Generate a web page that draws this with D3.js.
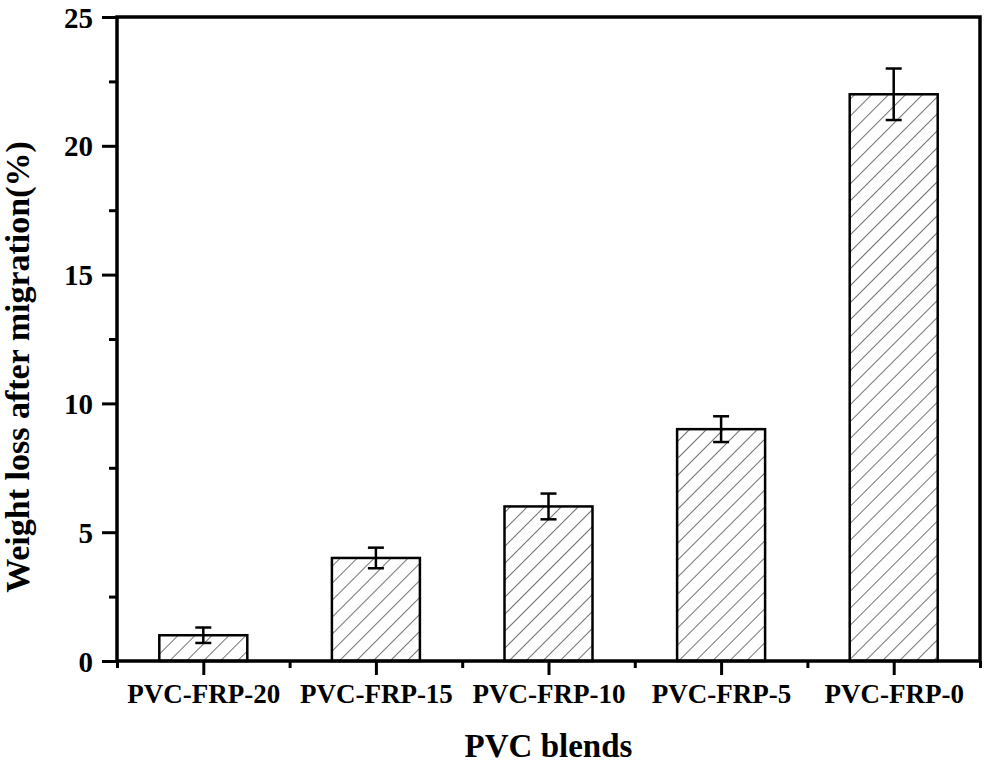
<!DOCTYPE html>
<html>
<head>
<meta charset="utf-8">
<script src="https://cdn.jsdelivr.net/npm/d3@7"></script>
<style>
  body { margin: 0; background: #fff; }
  text { font-family: "Liberation Serif", "Times New Roman", serif; font-weight: bold; fill: #000; }
</style>
</head>
<body>
<svg id="chart" width="991" height="763"></svg>
<script>
// data
const blends = ["PVC-FRP-20", "PVC-FRP-15", "PVC-FRP-10", "PVC-FRP-5", "PVC-FRP-0"];
const weightLoss = [1, 4, 6, 9, 22];
const errors = [0.3, 0.4, 0.5, 0.5, 1];
const yTicks = [0, 5, 10, 15, 20, 25];

const svg = d3.select("#chart");
const margin = { top: 17, right: 11, bottom: 102, left: 117 };
const width = 991 - margin.left - margin.right;
const height = 763 - margin.top - margin.bottom;

const g = svg.append("g").attr("transform", `translate(${margin.left},${margin.top})`);

// hatch pattern
const defs = svg.append("defs");
const pat = defs.append("pattern")
    .attr("id", "hatch")
    .attr("patternUnits", "userSpaceOnUse")
    .attr("width", 12).attr("height", 12)
    .attr("patternTransform", "rotate(45)");
pat.append("rect").attr("width", 12).attr("height", 12).attr("fill", "#fff");
pat.append("line")
    .attr("x1", 0).attr("y1", 0).attr("x2", 0).attr("y2", 12)
    .attr("stroke", "#000").attr("stroke-width", 1.1);

const x = d3.scaleLinear().domain([0.5, blends.length + 0.5]).range([0, width]);
const y = d3.scaleLinear().domain([0, 25]).range([height, 0]);
const barW = 88;

// bars
g.selectAll("rect.bar")
    .data(weightLoss)
    .enter().append("rect")
    .attr("class", "bar")
    .attr("x", (d, i) => x(i + 1) - barW / 2)
    .attr("y", d => y(d))
    .attr("width", barW)
    .attr("height", d => y(0) - y(d))
    .attr("fill", "url(#hatch)")
    .attr("stroke", "#000")
    .attr("stroke-width", 2.5);

// error bars
const eb = g.selectAll("g.err")
    .data(weightLoss)
    .enter().append("g").attr("class", "err")
    .attr("stroke", "#000").attr("stroke-width", 2.5);
eb.append("line")
    .attr("x1", (d, i) => x(i + 1)).attr("x2", (d, i) => x(i + 1))
    .attr("y1", (d, i) => y(d - errors[i])).attr("y2", (d, i) => y(d + errors[i]));
eb.append("line")
    .attr("x1", (d, i) => x(i + 1) - 8).attr("x2", (d, i) => x(i + 1) + 8)
    .attr("y1", (d, i) => y(d + errors[i])).attr("y2", (d, i) => y(d + errors[i]));
eb.append("line")
    .attr("x1", (d, i) => x(i + 1) - 8).attr("x2", (d, i) => x(i + 1) + 8)
    .attr("y1", (d, i) => y(d - errors[i])).attr("y2", (d, i) => y(d - errors[i]));

// axes
const yAxis = g.append("g")
    .call(d3.axisLeft(y).tickValues(yTicks).tickSize(15).tickPadding(9).tickFormat(d3.format("d")));
yAxis.selectAll("text").style("font-size", "29px").attr("dy", "0.35em");
g.append("g")
    .call(d3.axisLeft(y).tickValues(d3.range(2.5, 25, 5)).tickSize(8).tickFormat(""));

const xAxis = g.append("g")
    .attr("transform", `translate(0,${height})`)
    .call(d3.axisBottom(x).tickValues(d3.range(1, blends.length + 1)).tickSize(14).tickPadding(9)
        .tickFormat((d) => blends[d - 1]));
xAxis.selectAll("text").style("font-size", "27px");
g.append("g")
    .attr("transform", `translate(0,${height})`)
    .call(d3.axisBottom(x).tickValues(d3.range(0.5, blends.length + 1, 1)).tickSize(7).tickFormat(""));

g.selectAll(".domain").remove();
g.selectAll(".tick line").attr("stroke", "#000").attr("stroke-width", 3);

// frame
g.append("rect")
    .attr("width", width).attr("height", height)
    .attr("fill", "none").attr("stroke", "#000").attr("stroke-width", 3.5);

// titles
svg.append("text")
    .attr("x", margin.left + width / 2).attr("y", 757)
    .attr("text-anchor", "middle")
    .style("font-size", "33px")
    .text("PVC blends");

svg.append("text")
    .attr("transform", "translate(29,367) rotate(-90)")
    .attr("text-anchor", "middle")
    .style("font-size", "34px")
    .text("Weight loss after migration(%)");
</script>
</body>
</html>
